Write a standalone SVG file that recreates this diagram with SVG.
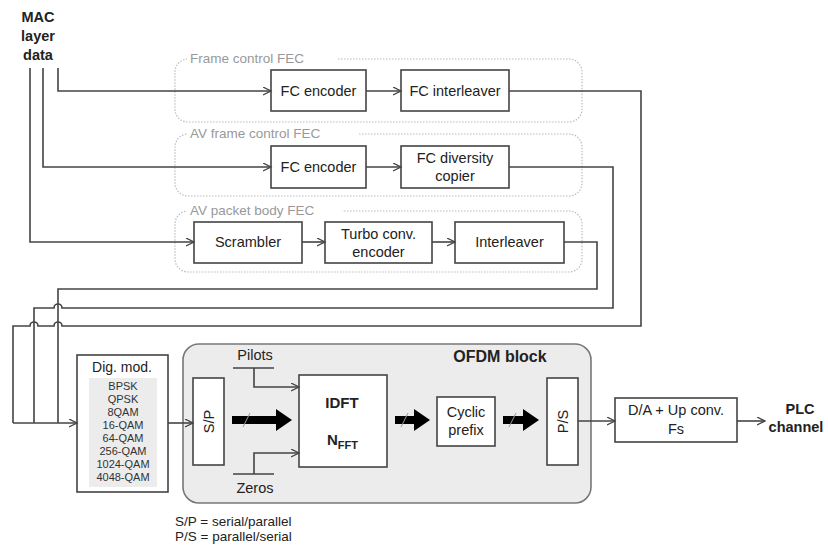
<svg xmlns="http://www.w3.org/2000/svg" width="828" height="553" viewBox="0 0 828 553">
<defs>
<marker id="ah" markerWidth="10" markerHeight="10" refX="8" refY="4" orient="auto" markerUnits="userSpaceOnUse">
<path d="M0,0 L8,4 L0,8" fill="none" stroke="#444" stroke-width="1.3"/>
</marker>
</defs>
<style>
text{font-family:"Liberation Sans",Arial,sans-serif;fill:#222}
.box{fill:#fff;stroke:#444;stroke-width:1.6}
.grp{fill:none;stroke:#bbb;stroke-width:1.2;stroke-dasharray:1.5 1.5}
.glab{font-size:13.5px;fill:#999}
.lbl{font-size:14.5px;text-anchor:middle}
.ln{fill:none;stroke:#444;stroke-width:1.6}
.arr{marker-end:url(#ah)}
.mod{font-size:11px;text-anchor:middle;fill:#333}
.big{fill:#000}
.slash{stroke:#999;stroke-width:1}
</style>

<g id="mac-label">
<text x="38" y="22" font-size="14.5" font-weight="bold" text-anchor="middle">MAC</text>
<text x="38" y="41" font-size="14.5" font-weight="bold" text-anchor="middle">layer</text>
<text x="38" y="60" font-size="14.5" font-weight="bold" text-anchor="middle">data</text>
</g>

<g id="grp-fc">
<rect class="grp" x="175" y="59" width="407" height="63" rx="13"/>
<rect x="187" y="50" width="150" height="16" fill="#fff"/>
<text class="glab" x="190" y="63">Frame control FEC</text>
</g>
<g id="grp-avfc">
<rect class="grp" x="175" y="134" width="407" height="62" rx="13"/>
<rect x="187" y="125" width="172" height="16" fill="#fff"/>
<text class="glab" x="190" y="138">AV frame control FEC</text>
</g>
<g id="grp-avpb">
<rect class="grp" x="175" y="211" width="407" height="61" rx="13"/>
<rect x="187" y="202" width="155" height="16" fill="#fff"/>
<text class="glab" x="190" y="215">AV packet body FEC</text>
</g>

<g id="fc-encoder-1">
<rect class="box" x="271" y="70" width="95" height="41"/>
<text class="lbl" x="318.5" y="96">FC encoder</text>
</g>
<g id="fc-interleaver">
<rect class="box" x="401" y="70" width="108" height="41"/>
<text class="lbl" x="455" y="96">FC interleaver</text>
</g>
<g id="fc-encoder-2">
<rect class="box" x="271" y="146" width="95" height="42"/>
<text class="lbl" x="318.5" y="172">FC encoder</text>
</g>
<g id="fc-diversity">
<rect class="box" x="401" y="146" width="108" height="42"/>
<text class="lbl" x="455" y="163">FC diversity</text>
<text class="lbl" x="455" y="181">copier</text>
</g>
<g id="scrambler">
<rect class="box" x="194" y="222" width="108" height="41"/>
<text class="lbl" x="248" y="247">Scrambler</text>
</g>
<g id="turbo">
<rect class="box" x="325" y="222" width="107" height="41"/>
<text class="lbl" x="378.5" y="239">Turbo conv.</text>
<text class="lbl" x="378.5" y="257">encoder</text>
</g>
<g id="interleaver">
<rect class="box" x="455" y="222" width="109" height="41"/>
<text class="lbl" x="509.5" y="247">Interleaver</text>
</g>

<g id="ofdm-block">
<rect x="183" y="344" width="408" height="159" rx="16" fill="#ececec" stroke="#777" stroke-width="1.6"/>
<text x="500" y="362" font-size="16" font-weight="bold" text-anchor="middle">OFDM block</text>
</g>

<g id="dig-mod">
<rect class="box" x="77" y="355" width="91" height="137"/>
<text x="122" y="372" font-size="14" text-anchor="middle">Dig. mod.</text>
<rect x="89" y="378" width="68" height="109" fill="#ececec"/>
<text class="mod" x="123" y="390">BPSK</text>
<text class="mod" x="123" y="403">QPSK</text>
<text class="mod" x="123" y="416">8QAM</text>
<text class="mod" x="123" y="429">16-QAM</text>
<text class="mod" x="123" y="442">64-QAM</text>
<text class="mod" x="123" y="455">256-QAM</text>
<text class="mod" x="123" y="468">1024-QAM</text>
<text class="mod" x="123" y="481">4048-QAM</text>
</g>

<g id="sp">
<rect class="box" x="193" y="378" width="31" height="87"/>
<text x="208.5" y="421.5" font-size="14.5" text-anchor="middle" transform="rotate(-90 208.5 421.5)" dy="5">S/P</text>
</g>

<g id="pilots">
<text x="255" y="360" font-size="14.5" text-anchor="middle">Pilots</text>
<line class="ln" x1="233" y1="368" x2="274" y2="368"/>
</g>
<g id="zeros">
<text x="255" y="493" font-size="14.5" text-anchor="middle">Zeros</text>
<line class="ln" x1="233" y1="474" x2="274" y2="474"/>
</g>

<g id="idft">
<rect class="box" x="299" y="375" width="88" height="92"/>
<text x="342" y="408" font-size="15" font-weight="bold" text-anchor="middle">IDFT</text>
<text x="327" y="445" font-size="15" font-weight="bold">N<tspan font-size="11" dy="4">FFT</tspan></text>
</g>

<g id="cyclic-prefix">
<rect class="box" x="437" y="397" width="58" height="49"/>
<text class="lbl" x="466" y="417">Cyclic</text>
<text class="lbl" x="466" y="435">prefix</text>
</g>

<g id="ps">
<rect class="box" x="547" y="378" width="31" height="87"/>
<text x="562.5" y="421.5" font-size="14.5" text-anchor="middle" transform="rotate(-90 562.5 421.5)" dy="5">P/S</text>
</g>

<g id="da">
<rect class="box" x="615" y="398" width="122" height="44"/>
<text class="lbl" x="676" y="415">D/A + Up conv.</text>
<text class="lbl" x="676" y="434">Fs</text>
</g>

<g id="plc">
<text x="800" y="414" font-size="14.5" font-weight="bold" text-anchor="middle">PLC</text>
<text x="796" y="432" font-size="14.5" font-weight="bold" text-anchor="middle">channel</text>
</g>

<g id="legend">
<text x="175" y="526" font-size="13.5">S/P = serial/parallel</text>
<text x="175" y="541" font-size="13.5">P/S = parallel/serial</text>
</g>

<g id="connectors">
<path class="ln arr" d="M58,68 V91 H271"/>
<path class="ln arr" d="M43,68 V167 H271"/>
<path class="ln arr" d="M30,68 V242 H194"/>
<path class="ln arr" d="M366,91 H401"/>
<path class="ln arr" d="M366,167 H401"/>
<path class="ln arr" d="M302,242 H325"/>
<path class="ln arr" d="M432,242 H455"/>
<path class="ln" d="M509,91 H641 V326 H62 A4,4 0 0 0 54,326 H38 A4,4 0 0 0 30,326 H13 V423"/>
<path class="ln" d="M509,167 H613 V308 H62 A4,4 0 0 0 54,308 H34 V423"/>
<path class="ln" d="M564,242 H597 V289 H58 V423"/>
<path class="ln arr" d="M13,423 H77"/>
<path class="ln arr" d="M168,423 H193"/>
<path class="ln arr" d="M254,368 V387 H299" stroke-width="1.2"/>
<path class="ln arr" d="M254,474 V453 H299" stroke-width="1.2"/>
<polygon class="big" points="232,416 276,416 276,409 292,420 276,431 276,424 232,424"/>
<line class="slash" x1="243" y1="427" x2="250" y2="413"/>
<polygon class="big" points="395,416 414,416 414,409 430,420 414,431 414,424 395,424"/>
<line class="slash" x1="401" y1="427" x2="408" y2="413"/>
<polygon class="big" points="503,416 523,416 523,409 539,420 523,431 523,424 503,424"/>
<line class="slash" x1="509" y1="427" x2="516" y2="413"/>
<path class="ln arr" d="M578,421 H615"/>
<path class="ln arr" d="M737,421 H765"/>
</g>
</svg>
